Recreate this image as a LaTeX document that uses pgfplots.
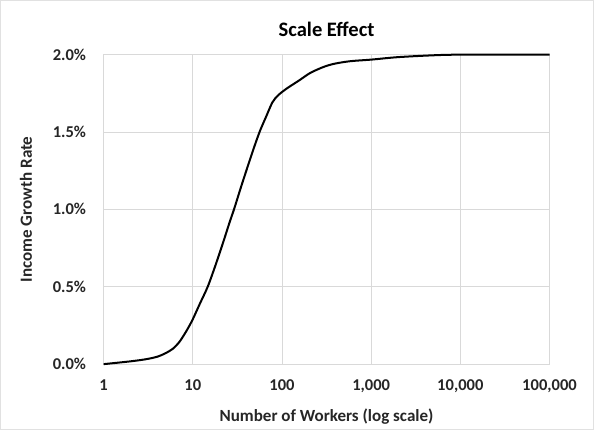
\documentclass[border=0pt]{standalone}
\usepackage{fontspec}
\setmainfont{Carlito}
\usepackage{pgfplots}
\pgfplotsset{compat=1.18}
\usetikzlibrary{calc}
\definecolor{gridgray}{RGB}{217,217,217}
\definecolor{framegray}{RGB}{225,225,225}

\begin{document}
\begin{tikzpicture}
\begin{axis}[
  name=ax,
  scale only axis,
  width=445pt, height=309pt,
  xmode=log,
  log basis x=10,
  xmin=1, xmax=100000,
  ymin=0, ymax=2,
  xtick={1,10,100,1000,10000,100000},
  xticklabels={1,10,100,{1,000},{10,000},{100,000}},
  ytick={0,0.5,1,1.5,2},
  yticklabels={0.0\%,0.5\%,1.0\%,1.5\%,2.0\%},
  minor tick num=0,
  xminorticks=false,
  major tick length=0pt,
  grid=major,
  major grid style={draw=gridgray, line width=0.8pt},
  axis line style={draw=gridgray, line width=0.8pt},
  tick label style={font=\fontsize{16.5}{19}\selectfont\bfseries, text=black!85},
  xticklabel style={yshift=-12pt},
  yticklabel style={xshift=-14pt},
  title={Scale Effect},
  title style={font=\fontsize{20.5}{24}\selectfont\bfseries, yshift=8pt},
  xlabel={Number of Workers (log scale)},
  ylabel={Income Growth Rate},
  label style={font=\fontsize{17}{20}\selectfont\bfseries, text=black!85},
  xlabel style={yshift=-9pt},
  ylabel style={yshift=14pt},
  clip=false,
]
\addplot[black, line width=2pt, smooth, tension=0.5] coordinates {
  (1,0) (2,0.018) (3,0.032) (4,0.048) (5,0.072) (6,0.1) (7,0.14)
  (8,0.19) (9,0.24) (10,0.29) (12,0.39) (14.7,0.5) (18,0.64)
  (22,0.79) (26,0.92) (29,1.0) (35,1.15) (42,1.29) (50,1.42)
  (57,1.51) (66,1.595) (78,1.69) (90,1.735) (111,1.777) (157,1.834)
  (209,1.882) (300,1.922) (400,1.942) (588,1.957) (1000,1.967)
  (2000,1.983) (5000,1.995) (10000,1.999) (100000,2.0)
};
\end{axis}
\draw[framegray, line width=0.8pt]
  ($(ax.south west)+(-103pt,-65pt)$) rectangle ($(ax.north east)+(44pt,54pt)$);
\end{tikzpicture}
\end{document}
